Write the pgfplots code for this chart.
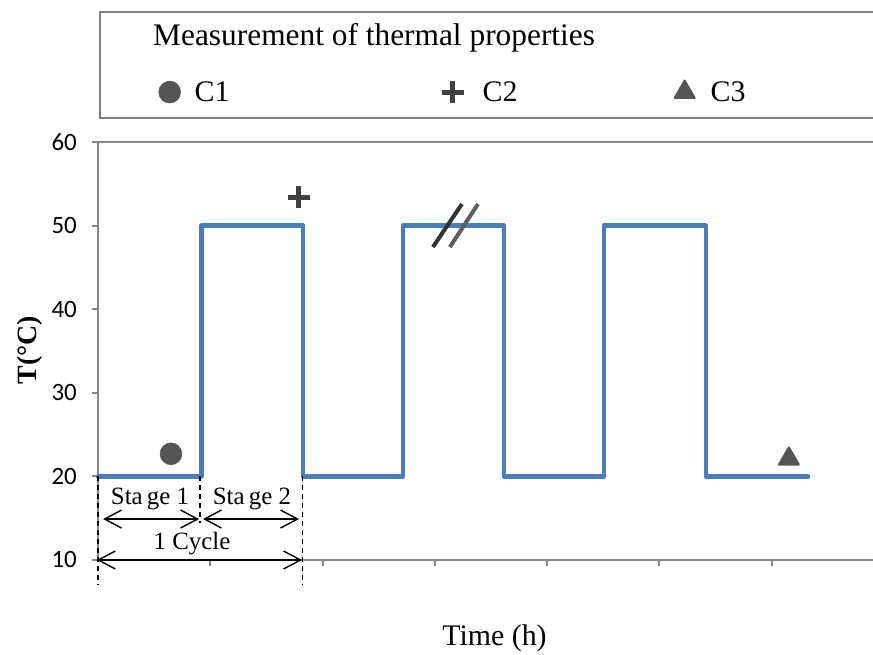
\documentclass[border=0pt]{standalone}
\usepackage{fontspec}
\setmainfont{Liberation Serif}
\newfontfamily\sansnum{Carlito}
\usepackage{pgfplots}
\pgfplotsset{compat=1.18}
\usetikzlibrary{arrows.meta}

\definecolor{stepblue}{RGB}{74,126,187}
\definecolor{axisgray}{RGB}{134,134,134}
\definecolor{boxgray}{RGB}{128,128,128}
\definecolor{markgray}{RGB}{85,85,85}
\definecolor{plusgray}{RGB}{64,64,64}
\definecolor{slashA}{RGB}{50,50,50}
\definecolor{slashB}{RGB}{95,95,95}

\begin{document}
\begin{tikzpicture}
\useasboundingbox (0,0) rectangle (873bp,655bp);
\begin{axis}[
  at={(98bp,95bp)}, anchor=south west,
  scale only axis, width=786bp, height=418bp,
  xmin=0, xmax=7, ymin=10, ymax=60,
  axis x line*=bottom, axis y line*=left,
  axis line style={-, axisgray, line width=2bp},
  tick style={axisgray, line width=2bp},
  tick align=outside, major tick length=6bp,
  xtick={1,...,6}, xticklabel={\mbox{}},
  ytick={10,20,...,60},
  yticklabel style={font=\sansnum\fontsize{25}{30}\selectfont, anchor=east, inner sep=0pt, xshift=-15bp},
  /pgf/number format/assume math mode=true,
  clip=false,
  legend columns=3,
  legend cell align=left,
  legend style={draw=none, fill=none, at={(0.077,1.12)}, anchor=west,
    column sep=14bp, inner sep=0pt, nodes={inner sep=0pt},
    font=\fontsize{30}{36}\selectfont},
]
% temperature cycling: 20 C / 50 C stages
\addplot[forget plot, stepblue, line width=4.5bp, line join=round, line cap=round] coordinates {
  (0,20) (0.92,20) (0.92,50) (1.826,50) (1.826,20) (2.716,20) (2.716,50)
  (3.615,50) (3.615,20) (4.506,20) (4.506,50) (5.414,50) (5.414,20) (6.323,20)
};
% measurement points
\addplot[only marks, mark=*, mark size=11bp, markgray] coordinates {(0.65,22.7)};
\addlegendentry{\makebox[233bp][l]{C1}}
\addplot[only marks, mark=+, mark size=11bp, plusgray, line width=5bp] coordinates {(1.79,53.4)};
\addlegendentry{\hspace{5bp}\makebox[178bp][l]{C2}}
\addplot[only marks, mark=triangle*, mark size=11.5bp, markgray,
  mark options={line width=2bp, line join=round}] coordinates {(6.153,22.1)};
\addlegendentry{\hspace{2bp}C3}

% top frame line
\draw[axisgray, line width=2bp] (rel axis cs:0,1) -- (rel axis cs:1,1);

% axis break mark
\draw[slashA, line width=4bp] (axis cs:2.983,47.44) -- (axis cs:3.241,52.58);
\draw[slashB, line width=4bp] (axis cs:3.134,47.44) -- (axis cs:3.384,52.58);

% stage / cycle annotation
\draw[black, line width=1.6bp, dash pattern=on 5bp off 4bp] (axis cs:0,20) -- (axis cs:0,7);
\draw[black, line width=1.6bp, dash pattern=on 5bp off 4bp] (axis cs:0.91,20) -- (axis cs:0.91,14.4);
\draw[black, line width=1.6bp, dash pattern=on 5bp off 4bp] (axis cs:1.82,20) -- (axis cs:1.82,7);
\draw[black, line width=1.4bp, {Straight Barb[length=17bp,width=18bp]}-{Straight Barb[length=17bp,width=18bp]}]
  (axis cs:0.045,14.9) -- (axis cs:0.90,14.9);
\draw[black, line width=1.4bp, {Straight Barb[length=17bp,width=18bp]}-{Straight Barb[length=17bp,width=18bp]}]
  (axis cs:0.935,14.9) -- (axis cs:1.79,14.9);
\draw[black, line width=1.4bp, {Straight Barb[length=17bp,width=18bp]}-{Straight Barb[length=17bp,width=18bp]}]
  (axis cs:-0.01,10) -- (axis cs:1.817,10);
\node[anchor=base, inner sep=0pt, font=\fontsize{25}{30}\selectfont] at (axis cs:0.463,16.6) {Sta\,ge 1};
\node[anchor=base, inner sep=0pt, font=\fontsize{25}{30}\selectfont] at (axis cs:1.371,16.6) {Sta\,ge 2};
\node[anchor=base, inner sep=0pt, font=\fontsize{25}{30}\selectfont] at (axis cs:0.837,11.2) {1 Cycle};
\end{axis}

% legend frame and heading
\draw[boxgray, line width=2bp] (100bp,537bp) rectangle (890bp,643bp);
\node[anchor=base west, inner sep=0pt, font=\fontsize{31.5}{38}\selectfont] at (153bp,609bp) {Measurement of thermal properties};

% axis titles
\node[rotate=90, inner sep=0pt, font=\fontsize{28}{33}\selectfont\bfseries] at (30bp,305bp) {T(°C)};
\node[anchor=base, inner sep=0pt, font=\fontsize{30}{36}\selectfont] at (494.5bp,10bp) {Time (h)};
\end{tikzpicture}
\end{document}
